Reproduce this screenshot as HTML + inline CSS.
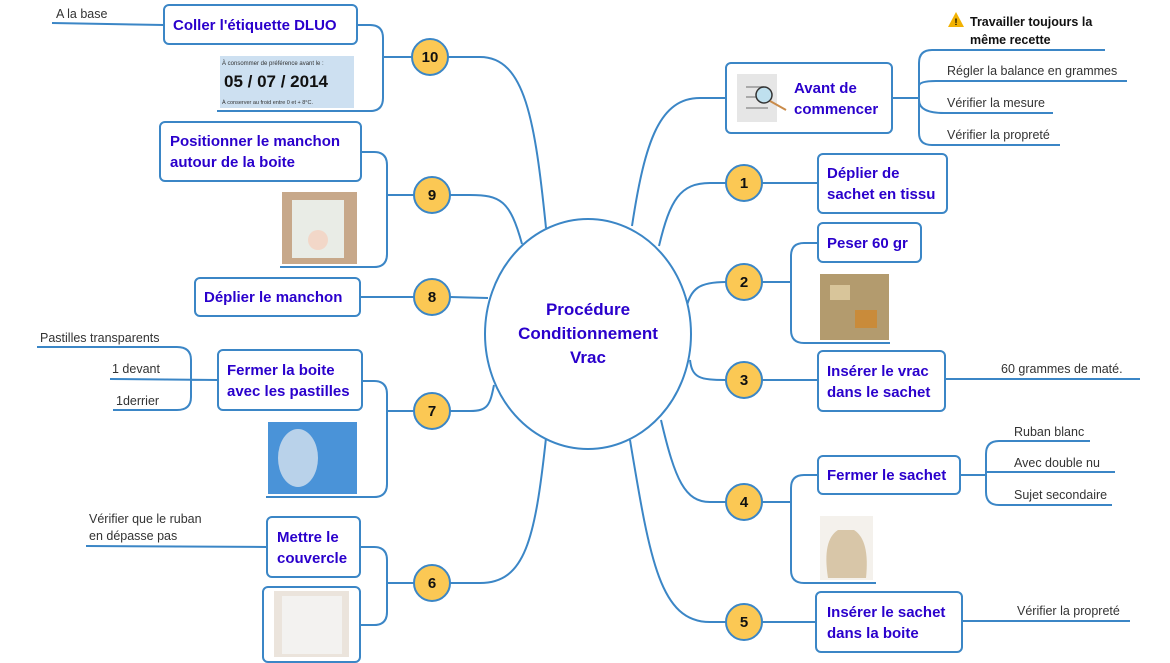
<!DOCTYPE html>
<html><head><meta charset="utf-8"><style>
body{margin:0;background:#fff;}
svg{display:block;font-family:"Liberation Sans","DejaVu Sans",sans-serif;}
.l{fill:none;stroke:#3b86c6;stroke-width:2;}
.b{fill:#fff;stroke:#3b86c6;stroke-width:2;}
.t{fill:#2a00cc;font-weight:bold;font-size:15px;}
.s{fill:#333;font-size:12.5px;}
.c{fill:#fbc854;stroke:#3b86c6;stroke-width:2;}
.n{font-weight:bold;font-size:15px;fill:#111;text-anchor:middle;}
.ct{fill:#2a00cc;font-weight:bold;font-size:17px;text-anchor:middle;}
</style></head><body>
<svg width="1170" height="663" viewBox="0 0 1170 663">
<path class="l" d="M546,228 C535,120 525,57 480,57 L448,57"/>
<path class="l" d="M522,244 C510,200 500,195 470,195 L450,195"/>
<path class="l" d="M488,298 L450,297"/>
<path class="l" d="M494,385 C490,405 488,411 470,411 L450,411"/>
<path class="l" d="M546,438 C535,540 525,583 480,583 L450,583"/>
<path class="l" d="M632,226 C645,140 660,98 700,98 L726,98"/>
<path class="l" d="M659,246 C670,200 680,183 710,183 L726,183"/>
<path class="l" d="M686,310 C690,288 700,282 726,282"/>
<path class="l" d="M690,360 C692,378 700,380 726,380"/>
<path class="l" d="M661,420 C675,480 685,502 710,502 L726,502"/>
<path class="l" d="M630,440 C650,560 660,622 710,622 L726,622"/>
<ellipse class="b" cx="588" cy="334" rx="103" ry="115"/>
<text class="ct"><tspan x="588" y="315">Procédure</tspan><tspan x="588" y="339">Conditionnement</tspan><tspan x="588" y="363">Vrac</tspan></text>
<path class="l" d="M412,57 L383,57 M357,25 L370,25 Q383,25 383,38 L383,98 Q383,111 370,111 L217,111"/>
<path class="l" d="M414,195 L387,195 M361,152 L374,152 Q387,152 387,165 L387,254 Q387,267 374,267 L280,267"/>
<path class="l" d="M414,297 L360,297"/>
<path class="l" d="M414,411 L387,411 M362,381 L374,381 Q387,381 387,394 L387,484 Q387,497 374,497 L266,497"/>
<path class="l" d="M414,583 L387,583 M360,547 L374,547 Q387,547 387,560 L387,612 Q387,625 374,625 L360,625"/>
<path class="l" d="M52,23 L164,25"/>
<path class="l" d="M37,347 L177,347 Q191,347 191,360 L191,397 Q191,410 177,410 L113,410 M110,379 L218,380"/>
<path class="l" d="M86,546 L267,547"/>
<path class="l" d="M892,98 L919,98 M943,50 L932,50 Q919,50 919,63 L919,133 Q919,145 932,145 L1060,145 M936,81 L1127,81 M1053,113 L944,113 Q919,113 919,100 M919,86 Q919,81 936,81"/>
<path class="l" d="M943,50 L1105,50"/>
<path class="l" d="M762,183 L818,183"/>
<path class="l" d="M762,282 L791,282 M818,243 L804,243 Q791,243 791,256 L791,330 Q791,343 804,343 L890,343"/>
<path class="l" d="M762,380 L818,380 M945,379 L1140,379"/>
<path class="l" d="M762,502 L791,502 M818,475 L804,475 Q791,475 791,488 L791,570 Q791,583 804,583 L876,583"/>
<path class="l" d="M960,475 L986,475 M1090,441 L999,441 Q986,441 986,454 L986,492 Q986,505 999,505 L1112,505 M986,472 L1115,472"/>
<path class="l" d="M762,622 L816,622 M962,621 L1130,621"/>
<rect class="b" x="164" y="5" width="193" height="39" rx="5"/>
<text class="t" x="173" y="30">Coller l'étiquette DLUO</text>
<rect x="220" y="56" width="134" height="52" fill="#cde0f1"/>
<text x="222" y="65" font-size="6" fill="#333">À consommer de préférence avant le :</text>
<text x="224" y="87" font-size="17" font-weight="bold" fill="#111">05 / 07 / 2014</text>
<text x="222" y="104" font-size="5.5" fill="#333">À conserver au froid entre 0 et + 8°C.</text>
<rect class="b" x="160" y="122" width="201" height="59" rx="5"/>
<text class="t"><tspan x="170" y="146">Positionner le manchon</tspan><tspan x="170" y="167">autour de la boite</tspan></text>
<rect x="282" y="192" width="75" height="72" fill="#c7a88a"/>
<rect x="292" y="200" width="52" height="58" fill="#e9ece6"/>
<circle cx="318" cy="240" r="10" fill="#f2d7c8"/>
<rect class="b" x="195" y="278" width="165" height="38" rx="5"/>
<text class="t" x="204" y="302">Déplier le manchon</text>
<rect class="b" x="218" y="350" width="144" height="60" rx="5"/>
<text class="t"><tspan x="227" y="375">Fermer la boite</tspan><tspan x="227" y="396">avec les pastilles</tspan></text>
<rect x="268" y="422" width="89" height="72" fill="#4a93d8"/>
<ellipse cx="298" cy="458" rx="20" ry="29" fill="#b9d2ea"/>
<rect class="b" x="267" y="517" width="93" height="60" rx="5"/>
<text class="t"><tspan x="277" y="542">Mettre le</tspan><tspan x="277" y="563">couvercle</tspan></text>
<rect class="b" x="263" y="587" width="97" height="75" rx="5"/>
<rect x="274" y="591" width="75" height="66" fill="#ebe4dc"/>
<rect x="282" y="596" width="60" height="58" fill="#f3f2f0"/>
<text class="s" x="56" y="18">A la base</text>
<text class="s" x="40" y="342">Pastilles transparents</text>
<text class="s" x="112" y="373">1 devant</text>
<text class="s" x="116" y="405">1derrier</text>
<text class="s"><tspan x="89" y="523">Vérifier que le ruban</tspan><tspan x="89" y="540">en dépasse pas</tspan></text>
<rect class="b" x="726" y="63" width="166" height="70" rx="5"/>
<rect x="737" y="74" width="40" height="48" fill="#e6e6e6"/>
<path d="M746,87 H764 M746,97 H760 M746,108 H768" stroke="#aaa" stroke-width="2"/>
<circle cx="764" cy="95" r="8" fill="#bfe0ee" stroke="#333" stroke-width="1.5"/>
<path d="M770,101 L786,110" stroke="#c98b4a" stroke-width="2"/>
<text class="t"><tspan x="794" y="93">Avant de</tspan><tspan x="794" y="114">commencer</tspan></text>
<rect class="b" x="818" y="154" width="129" height="59" rx="5"/>
<text class="t"><tspan x="827" y="178">Déplier de</tspan><tspan x="827" y="199">sachet en tissu</tspan></text>
<rect class="b" x="818" y="223" width="103" height="39" rx="5"/>
<text class="t" x="827" y="248">Peser 60 gr</text>
<rect x="820" y="274" width="69" height="66" fill="#b39b6e"/>
<rect x="830" y="285" width="20" height="15" fill="#d8c59a"/>
<rect x="855" y="310" width="22" height="18" fill="#c98b3a"/>
<rect class="b" x="818" y="351" width="127" height="60" rx="5"/>
<text class="t"><tspan x="827" y="376">Insérer le vrac</tspan><tspan x="827" y="397">dans le sachet</tspan></text>
<rect class="b" x="818" y="456" width="142" height="38" rx="5"/>
<text class="t" x="827" y="480">Fermer le sachet</text>
<rect x="820" y="516" width="53" height="64" fill="#f4f1ec"/>
<path d="M828,578 Q822,540 838,530 L854,530 Q870,540 866,578 Z" fill="#d8c6a8"/>
<rect class="b" x="816" y="592" width="146" height="60" rx="5"/>
<text class="t"><tspan x="827" y="617">Insérer le sachet</tspan><tspan x="827" y="638">dans la boite</tspan></text>
<path d="M956,12 L948,27 L964,27 Z" fill="#f2b203"/>
<text x="956" y="25" font-size="9" font-weight="bold" text-anchor="middle">!</text>
<text font-size="12.5" font-weight="bold" fill="#111"><tspan x="970" y="26">Travailler toujours la</tspan><tspan x="970" y="44">même recette</tspan></text>
<text class="s" x="947" y="75">Régler la balance en grammes</text>
<text class="s" x="947" y="107">Vérifier la mesure</text>
<text class="s" x="947" y="139">Vérifier la propreté</text>
<text class="s" x="1001" y="373">60 grammes de maté.</text>
<text class="s" x="1014" y="436">Ruban blanc</text>
<text class="s" x="1014" y="467">Avec double nu</text>
<text class="s" x="1014" y="499">Sujet secondaire</text>
<text class="s" x="1017" y="615">Vérifier la propreté</text>
<circle class="c" cx="430" cy="57" r="18"/><text class="n" x="430" y="62">10</text>
<circle class="c" cx="432" cy="195" r="18"/><text class="n" x="432" y="200">9</text>
<circle class="c" cx="432" cy="297" r="18"/><text class="n" x="432" y="302">8</text>
<circle class="c" cx="432" cy="411" r="18"/><text class="n" x="432" y="416">7</text>
<circle class="c" cx="432" cy="583" r="18"/><text class="n" x="432" y="588">6</text>
<circle class="c" cx="744" cy="183" r="18"/><text class="n" x="744" y="188">1</text>
<circle class="c" cx="744" cy="282" r="18"/><text class="n" x="744" y="287">2</text>
<circle class="c" cx="744" cy="380" r="18"/><text class="n" x="744" y="385">3</text>
<circle class="c" cx="744" cy="502" r="18"/><text class="n" x="744" y="507">4</text>
<circle class="c" cx="744" cy="622" r="18"/><text class="n" x="744" y="627">5</text>
</svg>
</body></html>
